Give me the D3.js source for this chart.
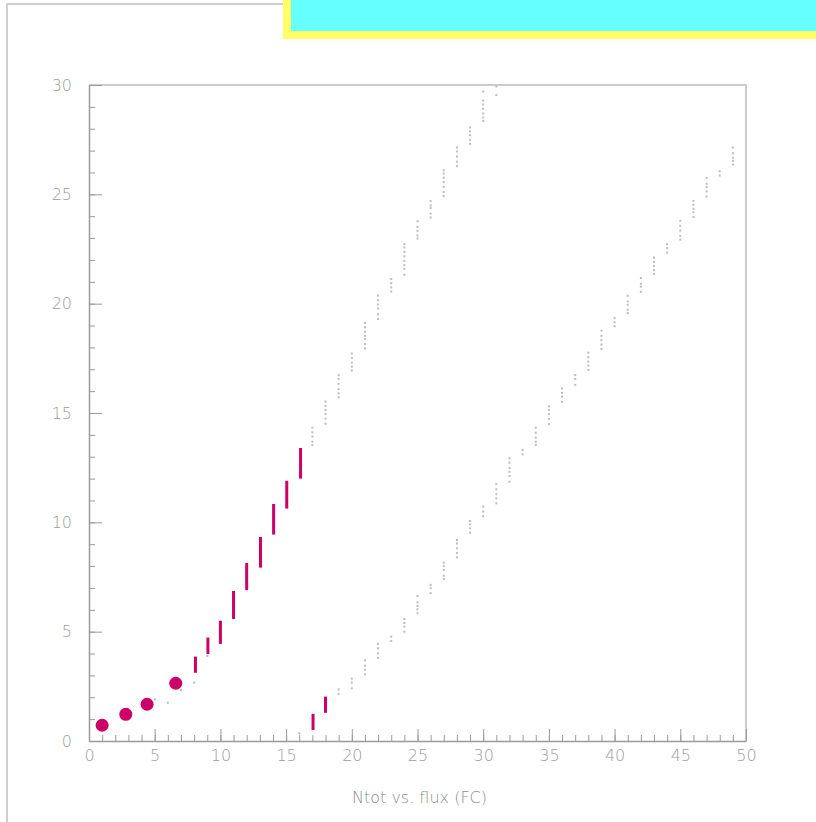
<!DOCTYPE html>
<html>
<head>
<meta charset="utf-8">
<script src="https://cdn.jsdelivr.net/npm/d3@7"></script>
<style>
    body { margin: 0; background: #fff; }
    svg { display: block; }
    .axis text { font-family: "DejaVu Sans", sans-serif; font-weight: 300; font-size: 16px; fill: #9c9c9c; }
    .axis path, .axis line { stroke: #9a9a9a; }
</style>
</head>
<body>
<div id="chart"></div>
<script>
// tick labels
const xTicks = [0, 5, 10, 15, 20, 25, 30, 35, 40, 45, 50]
const yTicks = [0, 5, 10, 15, 20, 25, 30]

// magenta points (low flux)
const circleX = [1.0, 2.8, 4.42, 6.6]
const circleY = [0.72, 1.22, 1.68, 2.64]

// magenta error bars
const barX = [8.1, 9.05, 10, 11, 12, 13.05, 14.05, 15.05, 16.1, 17.05, 18]
const barLow = [3.12, 3.98, 4.44, 5.58, 6.9, 7.93, 9.44, 10.63, 12.0, 0.5, 1.29]
const barHigh = [3.86, 4.73, 5.5, 6.86, 8.14, 9.33, 10.84, 11.9, 13.4, 1.24, 2.03]

// grey dots, upper staircase (one column per flux value)
const upperDots = [
    {x: 5, y: [1.91]},
    {x: 6, y: [1.75]},
    {x: 7, y: [2.33]},
    {x: 8, y: [2.67]},
    {x: 9, y: [3.89]},
    {x: 17, y: [14.33, 14.12, 13.92, 13.69, 13.53]},
    {x: 18, y: [15.52, 15.32, 15.14, 14.96, 14.74, 14.51]},
    {x: 19, y: [16.73, 16.56, 16.33, 16.09, 15.9, 15.72]},
    {x: 20, y: [17.72, 17.51, 17.31, 17.12, 16.94]},
    {x: 21, y: [19.12, 18.92, 18.72, 18.53, 18.38, 18.15, 17.96]},
    {x: 22, y: [20.37, 20.16, 19.96, 19.78, 19.52, 19.3]},
    {x: 23, y: [21.13, 20.94, 20.74, 20.55]},
    {x: 24, y: [22.72, 22.57, 22.37, 22.17, 21.96, 21.76, 21.59, 21.32]},
    {x: 25, y: [23.77, 23.51, 23.33, 23.12, 22.98]},
    {x: 26, y: [24.7, 24.49, 24.37, 24.12, 23.94]},
    {x: 27, y: [26.1, 25.95, 25.76, 25.56, 25.34, 25.11, 24.92]},
    {x: 28, y: [27.14, 26.96, 26.73, 26.49, 26.29]},
    {x: 29, y: [28.06, 27.88, 27.71, 27.48, 27.31]},
    {x: 30, y: [29.7, 29.29, 29.11, 28.91, 28.7, 28.51, 28.35]},
    {x: 31, y: [29.93, 29.54]}
]

// grey dots, lower staircase
const lowerDots = [
    {x: 16, y: [0.35]},
    {x: 19, y: [2.36, 2.15]},
    {x: 20, y: [2.85, 2.67, 2.41]},
    {x: 21, y: [3.69, 3.44, 3.26, 3.05]},
    {x: 22, y: [4.44, 4.24, 4.01, 3.8]},
    {x: 23, y: [4.77, 4.57]},
    {x: 24, y: [5.58, 5.4, 5.23, 5.0]},
    {x: 25, y: [6.63, 6.34, 6.18, 6.02, 5.84]},
    {x: 26, y: [7.14, 6.99, 6.76]},
    {x: 27, y: [8.16, 8.01, 7.82, 7.56, 7.4]},
    {x: 28, y: [9.19, 9.03, 8.82, 8.6, 8.4]},
    {x: 29, y: [10.06, 9.91, 9.73, 9.52]},
    {x: 30, y: [10.72, 10.49, 10.28]},
    {x: 31, y: [11.76, 11.51, 11.29, 11.1, 10.87]},
    {x: 32, y: [12.93, 12.73, 12.48, 12.31, 12.12, 11.86]},
    {x: 33, y: [13.31, 13.11]},
    {x: 34, y: [14.33, 14.1, 13.87, 13.69, 13.54]},
    {x: 35, y: [15.31, 15.14, 14.95, 14.73, 14.49]},
    {x: 36, y: [16.12, 15.92, 15.75, 15.51]},
    {x: 37, y: [16.74, 16.55, 16.29]},
    {x: 38, y: [17.76, 17.55, 17.35, 17.17, 16.97]},
    {x: 39, y: [18.77, 18.53, 18.33, 18.13, 17.93]},
    {x: 40, y: [19.34, 19.15, 18.97]},
    {x: 41, y: [20.36, 20.1, 19.95, 19.72, 19.57]},
    {x: 42, y: [21.17, 20.91, 20.78, 20.54]},
    {x: 43, y: [22.11, 21.91, 21.72, 21.53, 21.36]},
    {x: 44, y: [22.72, 22.54, 22.34]},
    {x: 45, y: [23.79, 23.56, 23.34, 23.1, 22.93]},
    {x: 46, y: [24.7, 24.52, 24.34, 24.18, 23.96]},
    {x: 47, y: [25.74, 25.48, 25.33, 25.13, 24.9]},
    {x: 48, y: [26.06, 25.86]},
    {x: 49, y: [27.14, 26.88, 26.67, 26.53, 26.36]}
]

const W = 816, H = 822
const margin = {top: 85, right: 70, bottom: 81, left: 89}
const width = W - margin.left - margin.right
const height = H - margin.top - margin.bottom
const magenta = "#cc0066"

const svg = d3.select("#chart")
    .append("svg")
    .attr("width", W)
    .attr("height", H)

// outer pad frame
svg.append("path")
    .attr("d", "M7,822 V4 H284")
    .attr("fill", "none")
    .attr("stroke", "#cfcfcf")
    .attr("stroke-width", 2)

// title box in the corner
svg.append("rect")
    .attr("x", 283).attr("y", -10)
    .attr("width", 560).attr("height", 49)
    .attr("fill", "#ffff66")
svg.append("rect")
    .attr("x", 291).attr("y", -10)
    .attr("width", 560).attr("height", 41)
    .attr("fill", "#66ffff")

const g = svg.append("g")
    .attr("transform", "translate(" + margin.left + "," + margin.top + ")")

let x = d3.scaleLinear().domain([0, 50]).range([0, width])
let y = d3.scaleLinear().domain([0, 30]).range([height, 0])

// top and right frame lines
g.append("path")
    .attr("d", "M0,0 H" + width + " V" + height)
    .attr("fill", "none")
    .attr("stroke", "#cccccc")
    .attr("stroke-width", 2)

// minor ticks
g.append("g")
    .attr("class", "axis")
    .attr("transform", "translate(0," + height + ")")
    .call(d3.axisBottom(x).tickValues(d3.range(0, 51)).tickSize(-6).tickFormat(""))
    .call(a => a.select(".domain").remove())
g.append("g")
    .attr("class", "axis")
    .call(d3.axisLeft(y).tickValues(d3.range(0, 31)).tickSize(-6).tickFormat(""))
    .call(a => a.select(".domain").remove())

// major ticks and labels
g.append("g")
    .attr("class", "axis")
    .attr("transform", "translate(0," + height + ")")
    .call(d3.axisBottom(x).tickValues(xTicks).tickSizeInner(-12).tickSizeOuter(0).tickPadding(9))
    .call(a => a.select(".domain").attr("stroke-width", 1.5))
g.append("g")
    .attr("class", "axis")
    .call(d3.axisLeft(y).tickValues(yTicks).tickSizeInner(-13).tickSizeOuter(0).tickPadding(17))
    .call(a => a.select(".domain").attr("stroke-width", 1.5))

// grey dots
const dots = []
upperDots.concat(lowerDots).forEach(col => col.y.forEach(v => dots.push([col.x, v])))
g.append("g")
    .selectAll("rect")
    .data(dots)
    .enter()
    .append("rect")
    .attr("x", d => x(d[0]) - 1)
    .attr("y", d => y(d[1]) - 1)
    .attr("width", 2)
    .attr("height", 2)
    .attr("fill", "#bdbdbd")

// magenta bars
g.append("g")
    .selectAll("rect")
    .data(barX)
    .enter()
    .append("rect")
    .attr("x", d => x(d) - 1.5)
    .attr("y", (d, i) => y(barHigh[i]))
    .attr("width", 3)
    .attr("height", (d, i) => y(barLow[i]) - y(barHigh[i]))
    .attr("fill", magenta)

// magenta points
g.append("g")
    .selectAll("circle")
    .data(circleX)
    .enter()
    .append("circle")
    .attr("cx", d => x(d))
    .attr("cy", (d, i) => y(circleY[i]))
    .attr("r", 6.5)
    .attr("fill", magenta)

// x axis title
g.append("text")
    .attr("text-anchor", "middle")
    .attr("x", width / 2 + 2)
    .attr("y", height + 62)
    .style("font-family", "DejaVu Sans, sans-serif")
    .style("font-weight", 300)
    .style("font-size", "16px")
    .style("fill", "#8c8c8c")
    .text("Ntot vs. flux (FC)")
</script>
</body>
</html>
